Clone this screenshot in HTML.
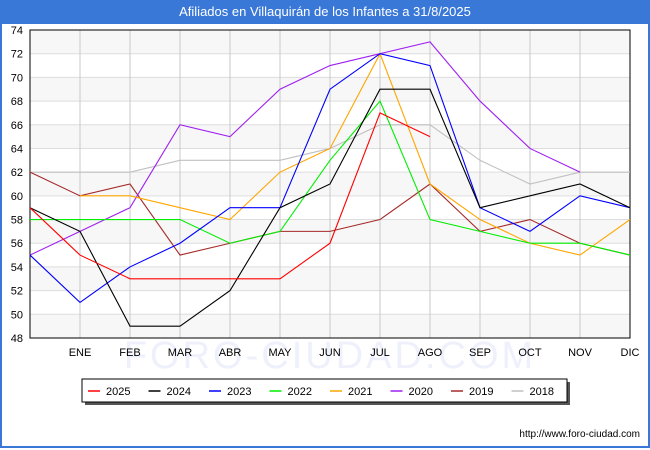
<!DOCTYPE html>
<html><head><meta charset="utf-8"><style>
body{margin:0;width:650px;height:450px;background:#fff;font-family:"Liberation Sans",sans-serif;overflow:hidden}
#frame{position:absolute;left:0;top:0;width:646px;height:446px;border:2px solid #3a78d8;border-top:none}
#title{position:absolute;left:0;top:0;width:650px;height:24px;background:#3a78d8;color:#fff;font-size:13px;text-align:center;line-height:24px}
</style></head><body>
<div id="frame"></div>
<div id="title">Afiliados en Villaquirán de los Infantes a 31/8/2025</div>
<svg id="chart" width="650" height="450" style="position:absolute;left:0;top:0"></svg>
<script>
const categories=["","ENE","FEB","MAR","ABR","MAY","JUN","JUL","AGO","SEP","OCT","NOV","DIC"];
const yTicks=[48,50,52,54,56,58,60,62,64,66,68,70,72,74];
const s2025=[59,55,53,53,53,53,56,67,65,null,null,null,null];
const s2024=[59,57,49,49,52,59,61,69,69,59,60,61,59];
const s2023=[55,51,54,56,59,59,69,72,71,59,57,60,59];
const s2022=[58,58,58,58,56,57,63,68,58,57,56,56,55];
const s2021=[null,60,60,59,58,62,64,72,61,58,56,55,58];
const s2020=[55,57,59,66,65,69,71,72,73,68,64,62,null];
const s2019=[62,60,61,55,56,57,57,58,61,57,58,56,55];
const s2018=[62,62,62,63,63,63,64,66,66,63,61,62,62];
const seriesNames=["2025","2024","2023","2022","2021","2020","2019","2018"];
const seriesColors=["#ff0000","#000000","#0000ff","#00ee00","#ffa500","#a020f0","#a52a2a","#c0c0c0"];
const seriesData=[s2025,s2024,s2023,s2022,s2021,s2020,s2019,s2018];
const NS="http://www.w3.org/2000/svg";
const svg=document.getElementById('chart');
const L=30,R=630,T=30,B=338,yMin=48,yMax=74;
const xs=i=>L+(R-L)*i/(categories.length-1);
const ys=v=>B-(v-yMin)/(yMax-yMin)*(B-T);
function mk(t,a){const e=document.createElementNS(NS,t);for(const k in a)e.setAttribute(k,a[k]);svg.appendChild(e);return e;}
for(let i=0;i<yTicks.length-1;i++){if(i%2===0){const b=mk('rect',{x:L,y:ys(yTicks[i+1]),width:R-L,height:ys(yTicks[i])-ys(yTicks[i+1]),fill:'#f7f7f7'});

}}
const wm=mk('text',{x:330,y:368,'font-size':38,fill:'#eef0fb','text-anchor':'middle','letter-spacing':'3'});wm.textContent='FORO-CIUDAD.COM';


yTicks.forEach(v=>{const g=mk('line',{x1:L,x2:R,y1:ys(v),y2:ys(v),stroke:'#dddddd'});


const t=mk('text',{x:L-7,y:ys(v)+4,'font-size':11,'text-anchor':'end',fill:'#000'});t.textContent=v;

});
categories.forEach((c,i)=>{if(i>0){const g=mk('line',{x1:xs(i),x2:xs(i),y1:T,y2:B,stroke:'#c8c8c8'});


const t=mk('text',{x:xs(i),y:356,'font-size':11,'text-anchor':'middle',fill:'#000'});t.textContent=c;

}});
const ax=mk('rect',{x:L,y:T,width:R-L,height:B-T,fill:'none',stroke:'#000'});


for(let k=seriesData.length-1;k>=0;k--){const d=seriesData[k];let p='';d.forEach((v,i)=>{if(v!==null)p+=(p?'L':'M')+xs(i)+','+ys(v);});
const pl=mk('path',{d:p,fill:'none',stroke:seriesColors[k],'stroke-width':1.1});

}
const sh=mk('rect',{x:85,y:382,width:485,height:23,fill:'#555'});


const lg=mk('rect',{x:82,y:379,width:485,height:23,fill:'#fff',stroke:'#000'});


seriesNames.forEach((n,k)=>{const x0=88+k*60.5;
const ln=mk('line',{x1:x0,x2:x0+12,y1:391,y2:391,stroke:seriesColors[k],'stroke-width':1.5});


const t=mk('text',{x:x0+18,y:395,'font-size':11,fill:'#000'});t.textContent=n;

});
const u=mk('text',{x:640,y:437,'font-size':10,'text-anchor':'end',fill:'#000'});u.textContent='http://www.foro-ciudad.com';


</script>
</body></html>
